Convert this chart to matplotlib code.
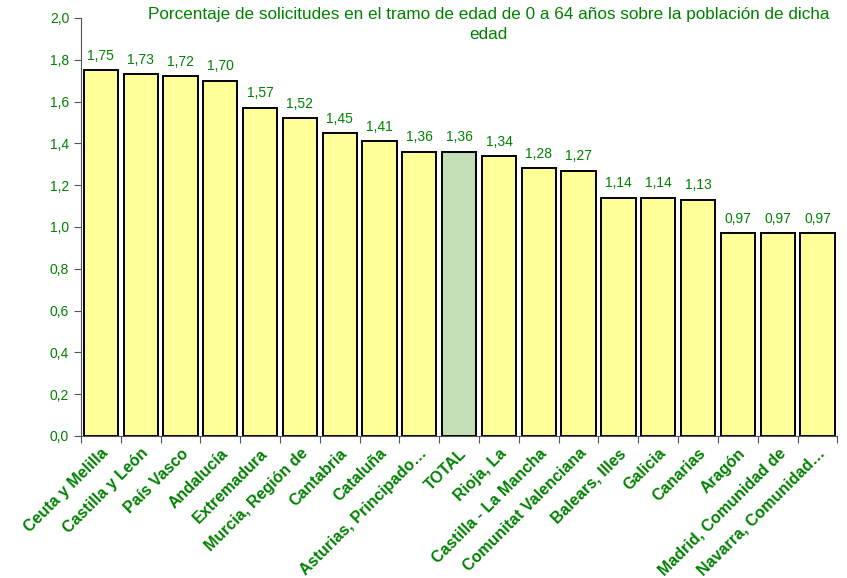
import matplotlib.pyplot as plt
import numpy as np

regions = ["Ceuta y Melilla", "Castilla y León", "País Vasco", "Andalucía",
           "Extremadura", "Murcia, Región de", "Cantabria", "Cataluña",
           "Asturias, Principado…", "TOTAL", "Rioja, La", "Castilla - La Mancha",
           "Comunitat Valenciana", "Balears, Illes", "Galicia", "Canarias",
           "Aragón", "Madrid, Comunidad de", "Navarra, Comunidad…"]
values = [1.75, 1.73, 1.72, 1.70, 1.57, 1.52, 1.45, 1.41, 1.36, 1.36,
          1.34, 1.28, 1.27, 1.14, 1.14, 1.13, 0.97, 0.97, 0.97]
value_labels = ["1,75", "1,73", "1,72", "1,70", "1,57", "1,52", "1,45", "1,41",
                "1,36", "1,36", "1,34", "1,28", "1,27", "1,14", "1,14", "1,13",
                "0,97", "0,97", "0,97"]
y_ticks = [0.0, 0.2, 0.4, 0.6, 0.8, 1.0, 1.2, 1.4, 1.6, 1.8, 2.0]
y_tick_labels = ["0,0", "0,2", "0,4", "0,6", "0,8", "1,0", "1,2", "1,4", "1,6", "1,8", "2,0"]

green = "#008000"
plt.rcParams['font.family'] = ['Liberation Sans', 'DejaVu Sans']

fig = plt.figure(figsize=(8.47, 5.78), dpi=100)
ax = fig.add_axes([0.0956, 0.2457, 0.893, 0.7233])

x = np.arange(len(regions))
colors = ["#C4DFB5" if r == "TOTAL" else "#FFFF99" for r in regions]
ax.bar(x, values, width=0.86, color=colors, edgecolor="black", linewidth=1.4)

for xi, v, lab in zip(x, values, value_labels):
    ax.text(xi, v + 0.035, lab, ha="center", va="bottom", color=green, fontsize=10)

ax.set_xlim(-0.5, len(regions) - 0.5)
ax.set_ylim(0, 2.0)
ax.set_yticks(y_ticks)
ax.set_yticklabels(y_tick_labels, color=green, fontsize=10)
ax.set_xticks(np.arange(len(regions) + 1) - 0.5)
ax.set_xticklabels([])
ax.set_xticks(x, minor=True)
ax.set_xticklabels(regions, minor=True, rotation=45, ha="right",
                   rotation_mode="anchor", color=green, fontsize=11.5, fontweight="bold")
ax.tick_params(axis="x", which="minor", length=0, pad=7)
ax.tick_params(axis="x", which="major", length=5, color="#555555")
ax.tick_params(axis="y", length=5, color="#555555")

ax.spines["top"].set_visible(False)
ax.spines["right"].set_visible(False)
ax.spines["left"].set_color("#555555")
ax.spines["bottom"].set_color("#555555")

fig.text(0.577, 0.988, "Porcentaje de solicitudes en el tramo de edad de 0 a 64 años sobre la población de dicha\nedad",
         ha="center", va="top", color=green, fontsize=12.3, linespacing=1.45)

fig.savefig("out.png", dpi=100)
plt.close()
